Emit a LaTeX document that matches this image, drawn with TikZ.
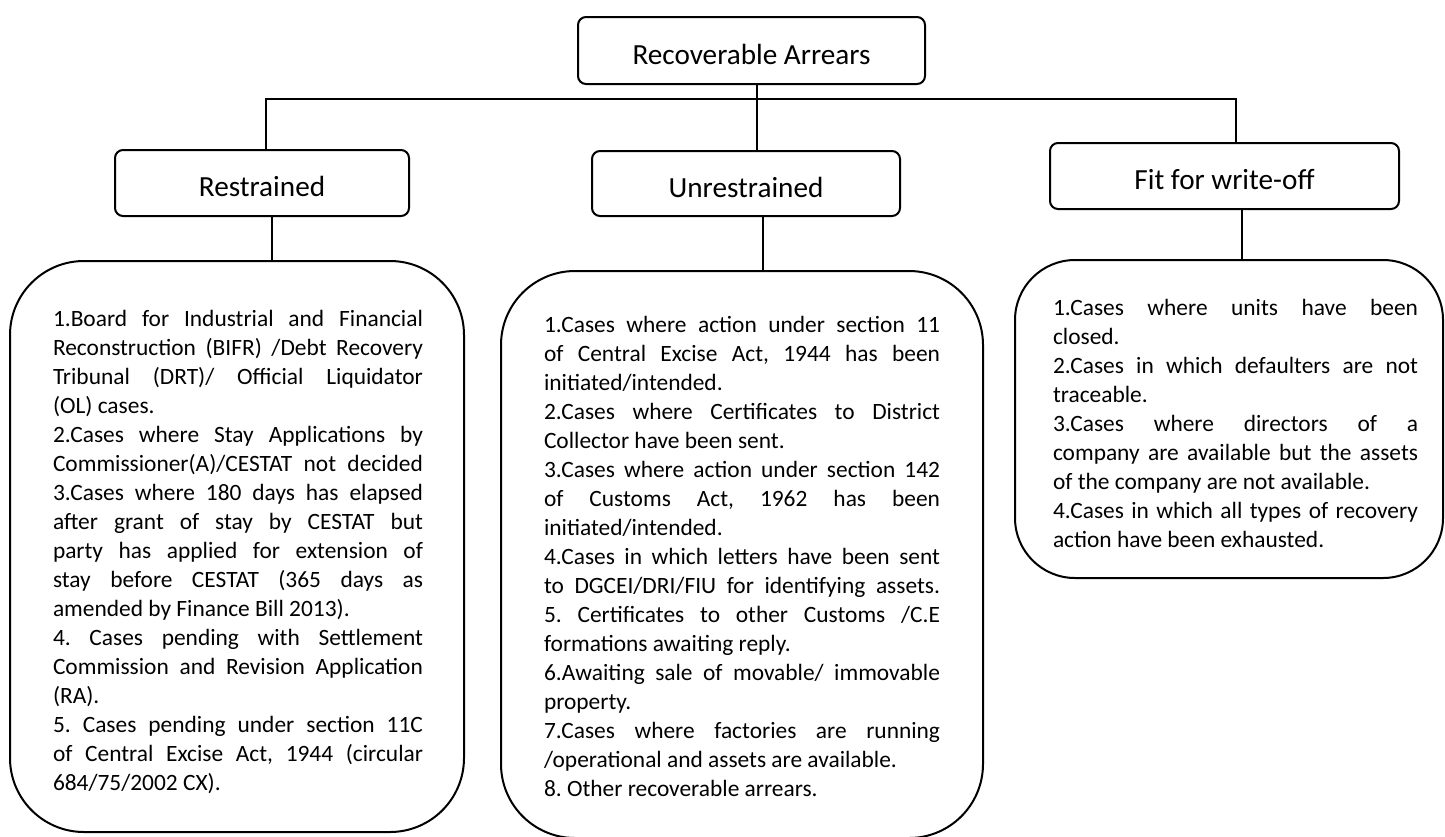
\documentclass[tikz,border=0pt]{standalone}
\usepackage{fontspec}
\setmainfont{Carlito}
\frenchspacing

\begin{document}
\begin{tikzpicture}[x=0.5pt,y=-0.5pt,line width=1pt,
  head node/.style={draw,rounded corners=4pt,inner sep=0pt,text height=13.8pt,text depth=0pt,font=\fontsize{14.6}{17}\selectfont},
  list box/.style={draw,inner sep=0pt},
  list text/.style={anchor=north west,inner sep=0pt,align=justify,font=\fontsize{11.7}{14.5}\selectfont,execute at begin node={\pretolerance 10000 }}]
  \useasboundingbox (0,0) rectangle (1445,836);

  % heads
  \node[head node,minimum width=173.5pt,minimum height=33.5pt] (top) at (751.5,50.5) {Recoverable Arrears};
  \node[head node,minimum width=147pt,minimum height=33pt] (restr) at (262,183) {Restrained};
  \node[head node,minimum width=154pt,minimum height=32.5pt] (unres) at (746,183.5) {Unrestrained};
  \node[head node,minimum width=174.5pt,minimum height=33pt] (fit) at (1224.5,176) {Fit for write-off};

  % lists
  \node[list box,rounded corners=37pt,minimum width=227pt,minimum height=285.5pt] (restrbox) at (237,546.5) {};
  \node[list box,rounded corners=37pt,minimum width=241pt,minimum height=283.5pt] (unresbox) at (742,554.5) {};
  \node[list box,rounded corners=30pt,minimum width=214pt,minimum height=159pt] (fitbox) at (1229,419) {};

  \node[list text,text width=185pt] (restrtext) at (52,309.2) {1.Board for Industrial and Financial\linebreak
    Reconstruction (BIFR) /Debt Recovery\linebreak
    Tribunal (DRT)/ Official Liquidator\linebreak
    (OL) cases.\newline
    2.Cases where Stay Applications by\linebreak
    Commissioner(A)/CESTAT not decided\linebreak
    3.Cases where 180 days has elapsed\linebreak
    after grant of stay by CESTAT but\linebreak
    party has applied for extension of\linebreak
    stay before CESTAT (365 days as\linebreak
    amended by Finance Bill 2013).\newline
    4. Cases pending with Settlement\linebreak
    Commission and Revision Application\linebreak
    (RA).\newline
    5. Cases pending under section 11C\linebreak
    of Central Excise Act, 1944 (circular\linebreak
    684/75/2002 CX).};
  \node[list text,text width=198pt] (unrestext) at (543,315.2) {1.Cases where action under section 11\linebreak
    of Central Excise Act, 1944 has been\linebreak
    initiated/intended.\newline
    2.Cases where Certificates to District\linebreak
    Collector have been sent.\newline
    3.Cases where action under section 142\linebreak
    of Customs Act, 1962 has been\linebreak
    initiated/intended.\newline
    4.Cases in which letters have been sent\linebreak
    to DGCEI/DRI/FIU for identifying assets.\linebreak
    5. Certificates to other Customs /C.E\linebreak
    formations awaiting reply.\newline
    6.Awaiting sale of movable/ immovable\linebreak
    property.\newline
    7.Cases where factories are running\linebreak
    /operational and assets are available.\newline
    8. Other recoverable arrears.};
  \node[list text,text width=182.5pt] (fittext) at (1052,298.5) {1.Cases where units have been\linebreak
    closed.\newline
    2.Cases in which defaulters are not\linebreak
    traceable.\newline
    3.Cases where directors of a\linebreak
    company are available but the assets\linebreak
    of the company are not available.\newline
    4.Cases in which all types of recovery\linebreak
    action have been exhausted.};

  % connectors
  \coordinate (bus) at (757,99);
  \coordinate (busl) at (266,99);
  \coordinate (busr) at (1236,99);
  \draw (top.south -| bus) -- (bus |- unres.north);
  \draw (busl |- restr.north) -- (busl) -- (busr) -- (busr |- fit.north);
  \draw ([xshift=5pt]restr.south) -- ([xshift=5pt]restr.south |- restrbox.north);
  \draw ([xshift=8.5pt]unres.south) -- ([xshift=8.5pt]unres.south |- unresbox.north);
  \draw ([xshift=8.75pt]fit.south) -- ([xshift=8.75pt]fit.south |- fitbox.north);
\end{tikzpicture}
\end{document}
